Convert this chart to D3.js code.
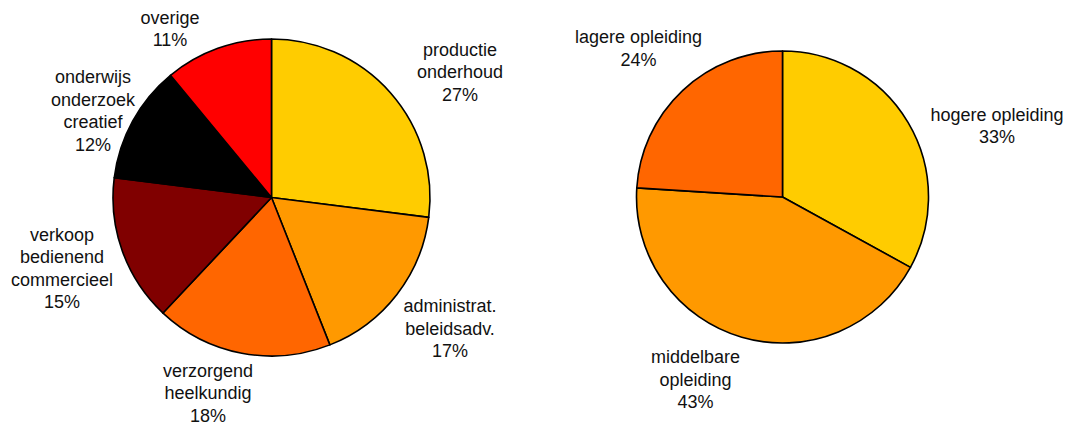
<!DOCTYPE html>
<html>
<head>
<meta charset="utf-8">
<script src="https://cdn.jsdelivr.net/npm/d3@7"></script>
<style>
  html, body { margin: 0; padding: 0; background: #fff; }
  svg { display: block; }
  text { font-family: "Liberation Sans", Arial, sans-serif; font-size: 18px; fill: #111; }
</style>
</head>
<body>
<svg id="chart" width="1070" height="426"></svg>
<script>
// ---- Data: occupations (left pie) ----
const occCategories = [
  ["productie", "onderhoud"],
  ["administrat.", "beleidsadv."],
  ["verzorgend", "heelkundig"],
  ["verkoop", "bedienend", "commercieel"],
  ["onderwijs", "onderzoek", "creatief"],
  ["overige"]
];
const occValues = [27, 17, 18, 15, 12, 11];
const occColors = ["#FFCC00", "#FF9900", "#FF6600", "#800000", "#000000", "#FF0000"];

// ---- Data: education (right pie) ----
const eduCategories = [
  ["hogere opleiding"],
  ["middelbare", "opleiding"],
  ["lagere opleiding"]
];
const eduValues = [33, 43, 24];
const eduColors = ["#FFCC00", "#FF9900", "#FF6600"];

// ---- Layout (label block centres relative to pie centre) ----
const occLabelOffsets = [[188.5, -125.5], [178.5, 131], [-63.5, 195.5], [-209.5, 70.5], [-178.5, -87], [-101.5, -169]];
const eduLabelOffsets = [[214.5, -71.5], [-87, 182.5], [-144, -149]];

const svg = d3.select("#chart");
const lineH = 22.5;

function drawPie(cx, cy, r, cats, vals, cols, offsets) {
  const data = vals.map((v, i) => ({ label: cats[i], value: v, color: cols[i], off: offsets[i] }));
  const pie = d3.pie().sort(null).value(d => d.value);
  const arc = d3.arc().innerRadius(0).outerRadius(r);
  const g = svg.append("g").attr("transform", `translate(${cx},${cy})`);
  const arcs = pie(data);
  g.selectAll("path").data(arcs).join("path")
    .attr("d", arc)
    .attr("fill", d => d.data.color)
    .attr("stroke", "#000")
    .attr("stroke-width", 1.6)
    .attr("stroke-linejoin", "round");

  const lg = g.selectAll("g.lbl").data(arcs).join("g").attr("class", "lbl")
    .attr("transform", d => `translate(${d.data.off[0]},${d.data.off[1]})`);
  lg.each(function(d) {
    const lines = d.data.label.concat([d.data.value + "%"]);
    const n = lines.length;
    const t = d3.select(this).append("text").attr("text-anchor", "middle");
    lines.forEach((s, i) => {
      t.append("tspan").attr("x", 0)
        .attr("y", (i - (n - 1) / 2) * lineH)
        .attr("dy", "0.35em")
        .text(s);
    });
  });
}

drawPie(271.5, 197.5, 158.5, occCategories, occValues, occColors, occLabelOffsets);
drawPie(782.5, 197, 146, eduCategories, eduValues, eduColors, eduLabelOffsets);
</script>
</body>
</html>
